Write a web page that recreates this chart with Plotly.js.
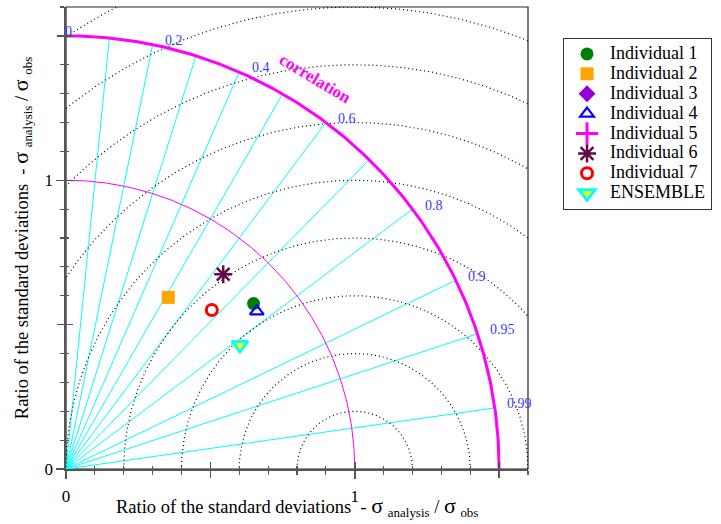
<!DOCTYPE html>
<html>
<head>
<meta charset="utf-8">
<script src="https://cdn.plot.ly/plotly-3.0.1.min.js"></script>
<style>html,body{margin:0;padding:0;background:#fff;}</style>
</head>
<body>
<div id="chart" style="width:721px;height:524px;"></div>
<script>
// ---- data ----
const modelNames = ['Individual 1','Individual 2','Individual 3','Individual 4','Individual 5','Individual 6','Individual 7','ENSEMBLE'];
const stdRatio   = [0.866, 0.692, null, 0.857, null, 0.867, 0.747, 0.740];
const correlation= [0.750, 0.512, null, 0.771, null, 0.628, 0.676, 0.814];
const corrLines  = [0.1,0.2,0.3,0.4,0.5,0.6,0.7,0.8,0.9,0.95,0.99];
const corrLabels = [0,0.2,0.4,0.6,0.8,0.9,0.95,0.99];
const rmsRadii   = [0.2,0.4,0.6,0.8,1.0,1.2,1.4,1.6,1.8];
const refStd = 1.0;
const maxStd = 1.5;
const labelTickVals = [0,1];
const labelTickText = ['0','1'];
const majorTickVals = [0,0.5,1,1.5];
const unlabeledTickVals = [0.5,1.5];

// ---- styles ----
const markerStyles = [
  {symbol:'circle', color:'#008000', size:13},
  {symbol:'square', color:'#ffa500', size:13},
  {symbol:'diamond', color:'#9400d3', size:13},
  {symbol:'triangle-up-open', color:'#0000ff', size:12, line:{color:'#0000ff', width:2.2}},
  {symbol:'cross-thin-open', color:'#ff00ff', size:16, line:{color:'#ff00ff', width:3}},
  {symbol:'asterisk-open', color:'#600a46', size:15, line:{color:'#600a46', width:2.5}},
  {symbol:'circle-open', color:'#ff0000', size:11, line:{color:'#ff0000', width:3}},
  {symbol:'triangle-down', color:'#ffff00', size:14, line:{color:'#00ffff', width:3}}
];
const serif = 'Liberation Serif';
const tickCol = '#555';

const traces = [];
// radial correlation lines
corrLines.forEach(c => {
  const s = Math.sqrt(1 - c*c);
  traces.push({x:[0, maxStd*c], y:[0, maxStd*s], mode:'lines', line:{color:'#00ffff', width:1},
    showlegend:false, hoverinfo:'skip'});
});
// RMS difference dotted arcs centered at (refStd,0)
rmsRadii.forEach(r => {
  const xs = [], ys = [];
  for (let i = 0; i <= 360; i++) {
    const t = Math.PI * i / 360;
    xs.push(refStd + r*Math.cos(t));
    ys.push(r*Math.sin(t));
  }
  traces.push({x:xs, y:ys, mode:'lines', line:{color:'#000', width:1.2, dash:'1px,3px'},
    showlegend:false, hoverinfo:'skip'});
});
// std arcs
[[refStd,1],[maxStd,3]].forEach(([r,w]) => {
  const xs = [], ys = [];
  for (let i = 0; i <= 200; i++) {
    const t = Math.PI/2 * i / 200;
    xs.push(r*Math.cos(t)); ys.push(r*Math.sin(t));
  }
  traces.push({x:xs, y:ys, mode:'lines', line:{color:'#ff00ff', width:w}, showlegend:false, hoverinfo:'skip'});
});
// dummies so the overlay tick axes are drawn
traces.push({x:[null], y:[null], xaxis:'x2', yaxis:'y2', mode:'markers', showlegend:false, hoverinfo:'skip'});
traces.push({x:[null], y:[null], xaxis:'x3', yaxis:'y3', mode:'markers', showlegend:false, hoverinfo:'skip'});
// model points
modelNames.forEach((n, i) => {
  const s = stdRatio[i], c = correlation[i];
  const ok = s !== null && c !== null;
  const st = markerStyles[i];
  const m = {symbol:st.symbol, color:st.color, size:st.size};
  if (st.line) m.line = st.line;
  traces.push({
    x:[ok ? s*c : null], y:[ok ? s*Math.sqrt(1-c*c) : null],
    mode:'markers', name:'<span style="font-size:18px">' + n + '</span>', marker:m,
    cliponaxis:false
  });
});

const annotations = [];
corrLabels.forEach(c => {
  const s = Math.sqrt(1-c*c);
  annotations.push({x:maxStd*c + (c === 0 ? 0 : 0.036), y:maxStd*s + 0.014, xshift:(c === 0 ? -3 : 0),
    xref:'x', yref:'y', text:String(c),
    showarrow:false, xanchor:'left', yanchor:'middle',
    font:{family:serif, size:14, color:'#3a3aff'}});
});
annotations.push({x:0.862, y:1.352, xref:'x', yref:'y', text:'<b>correlation</b>', showarrow:false,
  textangle:31, xanchor:'center', yanchor:'middle', font:{family:serif, size:17, color:'#ff00ff'}});
const titleText = 'Ratio of the standard deviations&nbsp;&nbsp;- <span style="font-size:22px">σ</span> <sub>analysis</sub> / <span style="font-size:22px">σ</span> <sub>obs</sub>';
annotations.push({x:0.5, y:-0.081, xref:'paper', yref:'paper', text:titleText, showarrow:false,
  xanchor:'center', yanchor:'middle', font:{family:serif, size:18.5, color:'#000'}});
annotations.push({x:-0.097, y:0.5, xref:'paper', yref:'paper', text:titleText, showarrow:false,
  textangle:-90, xanchor:'center', yanchor:'middle', font:{family:serif, size:18.5, color:'#000'}});

const base = {range:[0,1.6], showgrid:false, zeroline:false, fixedrange:true};
const minorOut = {ticks:'outside', tickmode:'linear', tick0:0, dtick:0.1, ticklen:4, tickwidth:1.2, tickcolor:tickCol};
const minorIn  = {ticks:'inside',  tickmode:'linear', tick0:0, dtick:0.1, ticklen:3, tickwidth:1.2, tickcolor:tickCol};
const mainAxis = Object.assign({}, base, {showline:true, linecolor:tickCol, linewidth:1.6,
  tickmode:'array', tickvals:labelTickVals, ticktext:labelTickText,
  tickfont:{family:serif, size:17, color:'#000'},
  ticks:'outside', ticklen:8, tickwidth:1.5, tickcolor:tickCol, minor:minorOut});
const insideAxis = Object.assign({}, base, {showline:false, showticklabels:false,
  tickmode:'array', tickvals:majorTickVals, ticks:'inside', ticklen:7, tickwidth:1.5, tickcolor:tickCol, minor:minorIn});
const outsideMajorAxis = Object.assign({}, base, {showline:false, showticklabels:false,
  tickmode:'array', tickvals:unlabeledTickVals, ticks:'outside', ticklen:8, tickwidth:1.5, tickcolor:tickCol});

const layout = {
  width:721, height:524,
  margin:{l:66, r:193, t:7, b:55},
  paper_bgcolor:'#fff', plot_bgcolor:'#fff',
  font:{family:serif},
  showlegend:true,
  xaxis:Object.assign({}, mainAxis, {ticklabelstandoff:3}),
  yaxis:Object.assign({}, mainAxis),
  xaxis2:Object.assign({}, insideAxis, {overlaying:'x', anchor:'y2', side:'bottom'}),
  yaxis2:Object.assign({}, insideAxis, {overlaying:'y', anchor:'x2', side:'left'}),
  xaxis3:Object.assign({}, outsideMajorAxis, {overlaying:'x', anchor:'y3', side:'bottom'}),
  yaxis3:Object.assign({}, outsideMajorAxis, {overlaying:'y', anchor:'x3', side:'left'}),
  legend:{x:1.0758, y:0.933, xanchor:'left', yanchor:'top', bgcolor:'#fff', bordercolor:'#333', borderwidth:1,
    font:{family:serif, size:13, color:'#000'}, itemwidth:36, tracegroupgap:0},
  shapes:[{type:'rect', xref:'paper', yref:'paper', x0:0, y0:0, x1:1, y1:1, line:{color:'#222', width:1.2}, layer:'below'}],
  annotations:annotations
};

Plotly.newPlot('chart', traces, layout, {displayModeBar:false, staticPlot:true});
</script>
</body>
</html>
